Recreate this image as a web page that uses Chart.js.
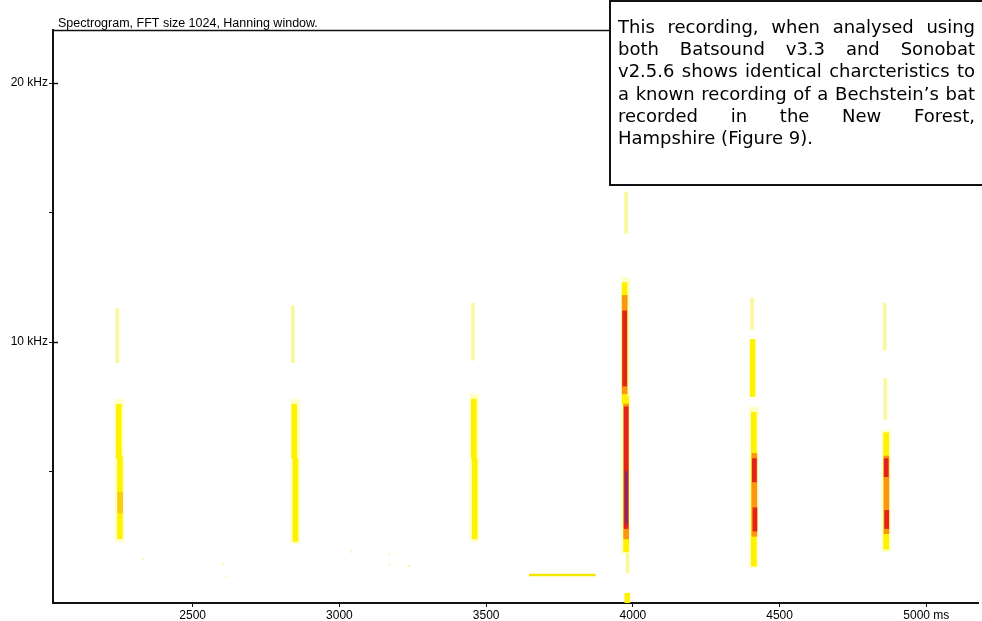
<!DOCTYPE html>
<html>
<head>
<meta charset="utf-8">
<script src="https://cdn.jsdelivr.net/npm/chart.js@4.4.0/dist/chart.umd.min.js"></script>
<style>
  body { margin: 0; background: #fff; }
  canvas { display: block; }
</style>
</head>
<body>
<canvas id="spec" width="982" height="621"></canvas>
<script>
// axis ticks
var xTicks = [2500, 3000, 3500, 4000, 4500, 5000];
var yTicks = [5, 10, 15, 20];

// call segments: [time ms, low kHz, high kHz], grouped by colour intensity
var halo = [
  [2250, 2.3, 7.8], [2850, 2.2, 7.8], [3460, 2.3, 8.0],
  [3975, 1.8, 12.5], [4412, 1.3, 7.5], [4863, 1.9, 6.6]
];
var faint = [
  [2243, 9.2, 11.3], [2841, 9.2, 11.4], [3455, 9.3, 11.5],
  [3977, 14.2, 15.8], [3982, 1.1, 1.8],
  [4406, 10.5, 11.7], [4858, 9.7, 11.5], [4860, 7.0, 8.6]
];
var yellow = [
  [2248, 5.5, 7.6], [2252, 2.4, 5.6],
  [2846, 5.5, 7.6], [2850, 2.3, 5.5],
  [3458, 5.5, 7.8], [3461, 2.4, 5.5],
  [3972, 7.6, 12.3], [3977, 1.9, 7.9], [3981, -0.1, 0.3],
  [4408, 7.9, 10.1], [4412, 1.35, 7.3],
  [4863, 2.0, 6.5]
];
var orange = [
  [3972, 8.0, 11.8], [3977, 2.4, 7.6],
  [4414, 2.5, 5.7],
  [4864, 2.6, 5.6]
];
var amber = [
  [2253, 3.4, 4.2]
];
var red = [
  [3972, 8.3, 11.2], [3977, 2.8, 7.5],
  [4414, 4.6, 5.5], [4416, 2.7, 3.6],
  [4863, 4.8, 5.5], [4865, 2.8, 3.5]
];
var purple = [
  [3978, 3.0, 5.0]
];
// long low-frequency streak and stray specks
var streakX = [3646, 3873];
var streakY = [1.0, 1.0];
var speckX = [2603, 2615, 3170, 3170, 3238, 2330, 3040];
var speckY = [1.45, 0.95, 1.8, 1.4, 1.35, 1.6, 1.9];

var title = 'Spectrogram, FFT size 1024, Hanning window.';
var noteLines = [
  'This recording, when analysed using',
  'both Batsound v3.3 and Sonobat',
  'v2.5.6 shows identical charcteristics to',
  'a known recording of a Bechstein\u2019s bat',
  'recorded in the New Forest,',
  'Hampshire (Figure 9).'
];

function toBars(list) {
  return list.map(function (s) { return { x: s[0], y: [s[1], s[2]] }; });
}
function barSet(list, color, width, order) {
  return {
    type: 'bar', data: toBars(list), backgroundColor: color,
    barThickness: width, grouped: false, order: order, borderWidth: 0
  };
}

var frame = {
  id: 'frame',
  afterDraw: function (chart) {
    var ctx = chart.ctx, a = chart.chartArea, ys = chart.scales.y;
    ctx.save();
    // top border
    ctx.strokeStyle = '#111';
    ctx.lineWidth = 1.5;
    ctx.beginPath();
    ctx.moveTo(a.left, 30.5);
    ctx.lineTo(a.right, 30.5);
    ctx.stroke();
    // inner part of major y ticks
    [10, 20].forEach(function (v) {
      var py = Math.round(ys.getPixelForValue(v)) + 0.5;
      ctx.beginPath();
      ctx.moveTo(a.left, py);
      ctx.lineTo(a.left + 5, py);
      ctx.stroke();
    });
    // title
    ctx.fillStyle = '#000';
    ctx.font = '12.5px "Liberation Sans", Arial, sans-serif';
    ctx.textBaseline = 'alphabetic';
    ctx.fillText(title, 58, 27);
    // note box
    ctx.fillStyle = '#fff';
    ctx.fillRect(609, 0, 380, 185);
    ctx.strokeStyle = '#111';
    ctx.lineWidth = 2;
    ctx.strokeRect(610, 1, 380, 184);
    ctx.fillStyle = '#000';
    ctx.font = '18px "DejaVu Sans", Verdana, sans-serif';
    var left = 618, right = 975, width = right - left;
    noteLines.forEach(function (line, i) {
      var base = 33 + i * 22.2;
      var words = line.split(/\s+/);
      if (i === noteLines.length - 1) {
        ctx.fillText(line, left, base);
        return;
      }
      var total = 0;
      words.forEach(function (w) { total += ctx.measureText(w).width; });
      var gap = Math.max(2, (width - total) / (words.length - 1));
      var px = left;
      words.forEach(function (w) {
        ctx.fillText(w, px, base);
        px += ctx.measureText(w).width + gap;
      });
    });
    ctx.restore();
  }
};

var tickFont = { family: '"Liberation Sans", Arial, sans-serif', size: 12 };

new Chart(document.getElementById('spec'), {
  type: 'bar',
  data: {
    datasets: [
      barSet(purple, '#7a2d6e', 2, 1),
      barSet(red, '#e2231a', 4, 2),
      barSet(orange, 'rgba(250,140,20,0.9)', 5, 3),
      barSet(amber, 'rgba(252,200,20,0.9)', 5, 3),
      barSet(yellow, '#fff200', 5, 4),
      barSet(faint, 'rgba(250,245,120,0.75)', 3, 5),
      barSet(halo, 'rgba(255,255,170,0.6)', 9, 6),
      {
        type: 'line', order: 7,
        data: streakX.map(function (x, i) { return { x: x, y: streakY[i] }; }),
        borderColor: '#f5e300', borderWidth: 2.5, pointRadius: 0
      },
      {
        type: 'scatter', order: 8,
        data: speckX.map(function (x, i) { return { x: x, y: speckY[i] }; }),
        pointStyle: 'rect', pointRadius: 1.3, borderWidth: 0,
        backgroundColor: 'rgba(245,235,90,0.55)'
      }
    ]
  },
  options: {
    responsive: false,
    animation: false,
    layout: { padding: { top: 30, left: 0, right: 0, bottom: 0 } },
    plugins: { legend: { display: false }, tooltip: { enabled: false }, title: { display: false } },
    scales: {
      x: {
        type: 'linear', min: 2024, max: 5176, offset: false,
        afterBuildTicks: function (s) { s.ticks = xTicks.map(function (v) { return { value: v }; }); },
        afterFit: function (s) { s.height = 18; },
        grid: { drawOnChartArea: false, offset: false, tickLength: 4, color: '#111' },
        border: { color: '#111', width: 2 },
        ticks: {
          color: '#000', font: tickFont, padding: 1, maxRotation: 0, autoSkip: false,
          callback: function (v) { return v === 5000 ? '5000 ms' : String(v); }
        }
      },
      y: {
        type: 'linear', min: -0.077, max: 22.05,
        afterBuildTicks: function (s) { s.ticks = yTicks.map(function (v) { return { value: v }; }); },
        afterFit: function (s) { s.width = 53; },
        grid: { drawOnChartArea: false, tickLength: 4, color: '#111' },
        border: { color: '#111', width: 2 },
        ticks: {
          color: '#000', font: tickFont, padding: 1, autoSkip: false,
          callback: function (v) { return v % 10 === 0 ? v + ' kHz' : ''; }
        }
      }
    }
  },
  plugins: [frame]
});
</script>
</body>
</html>
